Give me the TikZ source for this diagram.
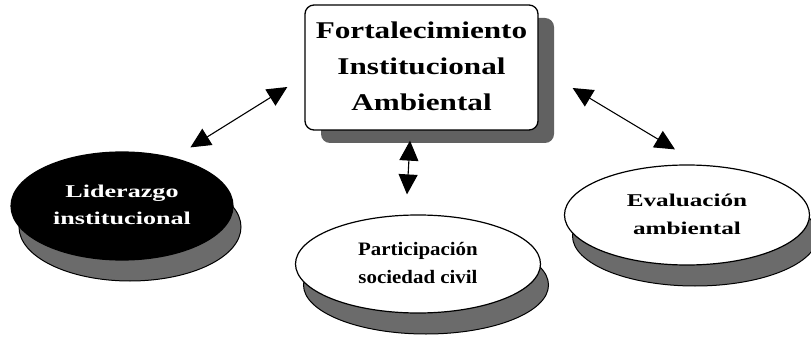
\documentclass[tikz,border=0pt]{standalone}
\usepackage{fontspec}
\setmainfont{Liberation Serif}
\usetikzlibrary{shapes.geometric,shadows,arrows.meta,calc}
\newcommand{\wtxt}[4]{\scalebox{#1}[1]{\fontsize{#2}{#3}\selectfont\bfseries\begin{tabular}{@{}c@{}}#4\end{tabular}}}
\begin{document}
\begin{tikzpicture}[x=1pt,y=-1pt,
  boxnode/.style={draw=black, line width=1.3pt, fill=white, rounded corners=9pt,
    minimum width=233pt, minimum height=125pt, inner sep=0pt,
    drop shadow={shadow xshift=16pt, shadow yshift=-13pt, opacity=1, fill=black!62}},
  ellnode/.style={ellipse, draw=black, line width=1.2pt, fill=white, inner sep=0pt,
    drop shadow={shadow xshift=8pt, shadow yshift=-21pt, opacity=1, fill=black!58, draw=black, line width=1pt}},
  arr/.style={{Triangle[length=20pt,width=19pt]}-{Triangle[length=20pt,width=19pt]}, line width=1.1pt, black}
]
\useasboundingbox (0,0) rectangle (811,339);
\node[boxnode] (box) at (421.5,67.5) {\wtxt{1.3}{24}{36}{Fortalecimiento\\Institucional\\Ambiental}};
\node[ellnode, fill=black, minimum width=222pt, minimum height=108pt, text=white] (lft) at (122,206)
  {\raisebox{-7pt}{\wtxt{1.45}{18}{27}{Liderazgo\\institucional}}};
\node[ellnode, minimum width=245pt, minimum height=98pt] (mid) at (418,264)
  {\raisebox{-6pt}{\wtxt{1.1}{19}{28}{Participación\\sociedad civil}}};
\node[ellnode, minimum width=245pt, minimum height=100pt] (rgt) at (687,215)
  {\wtxt{1.4}{18}{28}{Evaluación\\ambiental}};
\draw[arr] ($(lft.north east)+(-10.5,-20)$) -- ($(box.west)+(-17,19.5)$);
\draw[arr] ($(box.east)+(34,20.5)$) -- ($(rgt.north)+(-12,-15)$);
\draw[arr] ($(box.south)+(-11.5,10)$) -- ($(mid.north)+(-11,-20)$);
\end{tikzpicture}
\end{document}
